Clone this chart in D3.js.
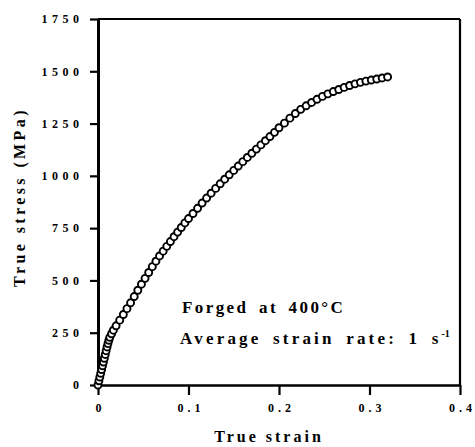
<!DOCTYPE html>
<html>
<head>
<meta charset="utf-8">
<script src="https://cdn.jsdelivr.net/npm/d3@7/dist/d3.min.js"></script>
<style>
  html, body { margin: 0; padding: 0; background: #fff; }
  svg { display: block; }
  text { font-family: "Liberation Serif", "Times New Roman", serif; font-weight: bold; fill: #000; }
</style>
</head>
<body>
<svg id="chart" width="475" height="447"></svg>
<script>
// Flow curve: true strain vs true stress (MPa)
const strain = [
  0.000, 0.001, 0.002, 0.003, 0.004, 0.005, 0.006, 0.007, 0.008, 0.009,
  0.010, 0.011, 0.012, 0.013, 0.015, 0.017, 0.020, 0.024, 0.028, 0.032,
  0.036, 0.040, 0.044, 0.048, 0.052, 0.056, 0.060, 0.064, 0.068, 0.072,
  0.076, 0.080, 0.084, 0.088, 0.092, 0.096, 0.100, 0.105, 0.110, 0.115,
  0.120, 0.125, 0.130, 0.135, 0.140, 0.145, 0.150, 0.155, 0.160, 0.165,
  0.170, 0.175, 0.180, 0.185, 0.190, 0.195, 0.200, 0.206, 0.212, 0.218,
  0.224, 0.230, 0.236, 0.242, 0.248, 0.254, 0.260, 0.266, 0.272, 0.278,
  0.284, 0.290, 0.296, 0.302, 0.308, 0.314, 0.320
];
const stress = [
  0, 20, 38, 56, 74, 92, 110, 128, 146, 164,
  182, 198, 214, 228, 245, 262, 283, 310, 337, 365,
  393, 423, 453, 482, 510, 538, 566, 592, 617, 640,
  663, 686, 709, 731, 753, 775, 796, 820, 845, 870,
  894, 917, 940, 962, 984, 1005, 1026, 1047, 1068, 1088,
  1108, 1128, 1148, 1168, 1188, 1208, 1230, 1252, 1276, 1298,
  1318, 1335, 1351, 1366, 1380, 1392, 1403, 1413, 1423, 1432,
  1440, 1447, 1453, 1458, 1463, 1468, 1473
];

const xTicks = [0, 0.1, 0.2, 0.3, 0.4];
const xTickLabels = ["0", "0.1", "0.2", "0.3", "0.4"];
const yTicks = [0, 250, 500, 750, 1000, 1250, 1500, 1750];
const yTickLabels = ["0", "250", "500", "750", "1000", "1250", "1500", "1750"];

const notes = ["Forged at 400°C", "Average strain rate: 1 s"];

const margin = { left: 98, top: 19, right: 15, bottom: 62 };
const W = 475, H = 447;
const pw = W - margin.left - margin.right;
const ph = H - margin.top - margin.bottom;

const svg = d3.select("#chart");
const g = svg.append("g").attr("transform", `translate(${margin.left},${margin.top})`);

const x = d3.scaleLinear().domain([0, 0.4]).range([0, pw]);
const y = d3.scaleLinear().domain([0, 1750]).range([ph, 0]);

// Frame (top and right sides)
g.append("line").attr("x1", 0).attr("x2", pw).attr("y1", 0).attr("y2", 0)
  .attr("stroke", "#000").attr("stroke-width", 2);
g.append("line").attr("x1", pw).attr("x2", pw).attr("y1", 0).attr("y2", ph)
  .attr("stroke", "#000").attr("stroke-width", 2.2);

// Bottom axis
const xAxis = g.append("g").attr("transform", `translate(0,${ph})`)
  .call(d3.axisBottom(x).tickValues(xTicks)
    .tickFormat((d, i) => xTickLabels[i]).tickSize(10).tickSizeOuter(0).tickPadding(8));
xAxis.select(".domain").attr("stroke-width", 2.5);
xAxis.selectAll(".tick line").attr("stroke-width", 2.2);
xAxis.selectAll(".tick text").attr("font-size", 12).attr("letter-spacing", 4)
  .attr("dx", 2).attr("font-family", "Liberation Serif, serif").attr("font-weight", "bold");

// Left axis
const yAxis = g.append("g")
  .call(d3.axisLeft(y).tickValues(yTicks)
    .tickFormat((d, i) => yTickLabels[i]).tickSize(8).tickSizeOuter(0).tickPadding(11));
yAxis.select(".domain").attr("stroke-width", 3);
yAxis.selectAll(".tick line").attr("stroke-width", 2.2);
yAxis.selectAll(".tick text").attr("font-size", 12).attr("letter-spacing", 4.5)
  .attr("dx", 4.5).attr("font-family", "Liberation Serif, serif").attr("font-weight", "bold");

// Axis titles
svg.append("text")
  .attr("x", margin.left + x(0.2) - 10).attr("y", 442)
  .attr("text-anchor", "middle").attr("font-size", 16).attr("letter-spacing", 3)
  .text("True strain");
svg.append("text")
  .attr("transform", `translate(25,${margin.top + y(875) - 5}) rotate(-90)`)
  .attr("text-anchor", "middle").attr("font-size", 16).attr("letter-spacing", 3.4)
  .text("True stress (MPa)");

// Data markers
const pts = strain.map((s, i) => ({ s, v: stress[i] }));
g.selectAll("circle.pt").data(pts).enter().append("circle")
  .attr("class", "pt")
  .attr("cx", d => x(d.s)).attr("cy", d => y(d.v))
  .attr("r", 3.5)
  .attr("fill", "#fff").attr("stroke", "#000").attr("stroke-width", 1.9);

// Test conditions
svg.append("text").attr("x", 182).attr("y", 313)
  .attr("font-size", 17).attr("letter-spacing", 2.4).attr("word-spacing", 4)
  .text(notes[0]);
const t2 = svg.append("text").attr("x", 180).attr("y", 344)
  .attr("font-size", 17).attr("letter-spacing", 3.2).attr("word-spacing", 4)
  .text(notes[1]);
t2.append("tspan").attr("font-size", 10).attr("dy", -7).attr("letter-spacing", 0).text("-1");
</script>
</body>
</html>
